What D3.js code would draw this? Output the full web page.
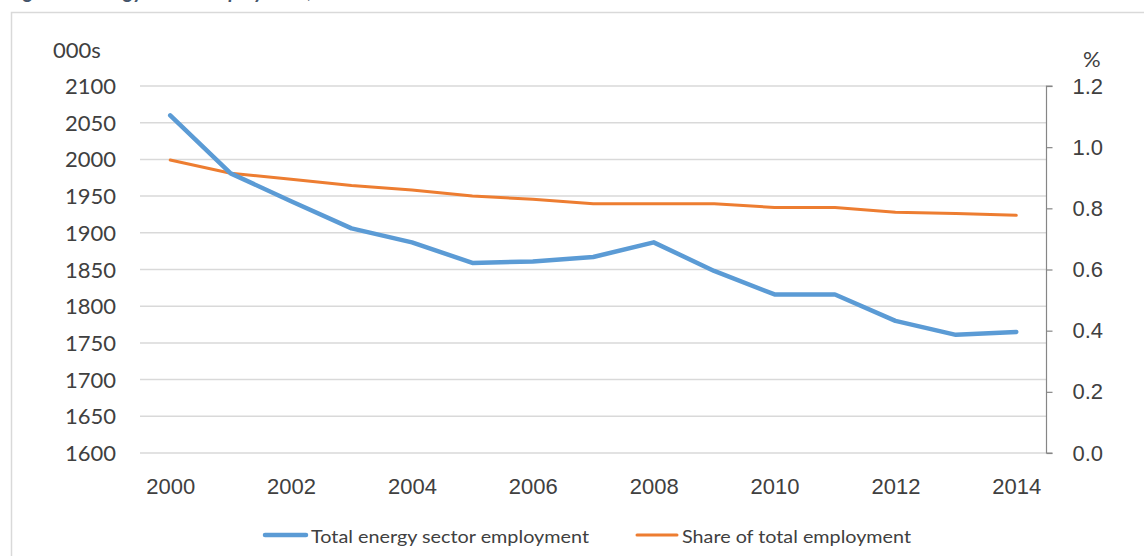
<!DOCTYPE html>
<html>
<head>
<meta charset="utf-8">
<script src="https://cdn.jsdelivr.net/npm/d3@7"></script>
<style>
  html, body { margin: 0; padding: 0; background: #fff; overflow: hidden; }
  svg { display: block; font-family: Lato, "Open Sans", sans-serif; }
  .tick-label { fill: #404040; font-size: 22px; }
  .legend-text { fill: #404040; }
</style>
</head>
<body>
<div id="chart"></div>
<script>
// Data
const years = [2000, 2001, 2002, 2003, 2004, 2005, 2006, 2007, 2008, 2009, 2010, 2011, 2012, 2013, 2014];
const energyEmployment = [2060, 1981, 1943, 1906, 1887, 1859, 1861, 1867, 1887, 1848, 1816, 1816, 1780, 1761, 1765];
const employmentShare = [0.958, 0.915, 0.895, 0.875, 0.860, 0.840, 0.830, 0.815, 0.815, 0.815, 0.803, 0.803, 0.787, 0.783, 0.777];
const xTickYears = [2000, 2002, 2004, 2006, 2008, 2010, 2012, 2014];
const leftTicks = [1600, 1650, 1700, 1750, 1800, 1850, 1900, 1950, 2000, 2050, 2100];
const rightTicks = [0, 0.2, 0.4, 0.6, 0.8, 1.0, 1.2];
const seriesNames = ["Total energy sector employment", "Share of total employment"];

const width = 1144, height = 556;
const plot = { left: 140, right: 1046.5, top: 86, bottom: 453 };
const BLUE = "#5b9bd5", ORANGE = "#ed7d31";

const svg = d3.select("#chart").append("svg").attr("width", width).attr("height", height);

// Figure title, cropped at the top edge as in the source image
svg.append("text")
  .attr("x", 8).attr("y", -2)
  .attr("fill", "#44546a").attr("font-size", 20).attr("font-weight", "bold").attr("font-style", "italic")
  .text("Figure 6: Energy sector employment, 2000–2014");

// Chart area border
svg.append("rect")
  .attr("x", 11.5).attr("y", 12.5).attr("width", 1150).attr("height", 560)
  .attr("fill", "none").attr("stroke", "#d9d9d9").attr("stroke-width", 1.5);

const x = d3.scalePoint().domain(years).range([plot.left, plot.right]).padding(0.5);
const yLeft = d3.scaleLinear().domain([1600, 2100]).range([plot.bottom, plot.top]);
const yRight = d3.scaleLinear().domain([0, 1.2]).range([plot.bottom, plot.top]);

// Horizontal gridlines
svg.append("g").selectAll("line").data(leftTicks).join("line")
  .attr("x1", plot.left).attr("x2", plot.right)
  .attr("y1", (d) => yLeft(d)).attr("y2", (d) => yLeft(d))
  .attr("stroke", "#d9d9d9").attr("stroke-width", 1.5);

// Left axis labels
svg.append("g").selectAll("text").data(leftTicks).join("text")
  .attr("class", "tick-label")
  .attr("x", 116).attr("y", (d) => yLeft(d) + 8)
  .attr("text-anchor", "end")
  .text((d) => d);

svg.append("text").attr("class", "tick-label").attr("x", 53).attr("y", 58).text("000s");

// Right axis
const rightAxis = d3.axisRight(yRight).tickValues(rightTicks).tickSize(6).tickPadding(20).tickFormat(d3.format(".1f"));
const rightG = svg.append("g").attr("transform", `translate(${plot.right},0)`).call(rightAxis);
rightG.select(".domain").attr("stroke", "#868686").attr("stroke-width", 1.2).attr("d", `M6,${plot.top}H0V${plot.bottom}H6`);
rightG.selectAll(".tick line").attr("stroke", "#868686").attr("stroke-width", 1.2);
rightG.selectAll(".tick text").attr("class", "tick-label").attr("font-family", null).attr("font-size", null)
  .attr("fill", "#404040").attr("dy", null).attr("y", 7);

svg.append("text").attr("class", "tick-label").attr("x", 1083).attr("y", 67).text("%");

// Bottom axis labels
const bottomAxis = d3.axisBottom(x).tickValues(xTickYears).tickSize(0).tickPadding(0);
const bottomG = svg.append("g").attr("transform", `translate(0,${plot.bottom})`).call(bottomAxis);
bottomG.select(".domain").remove();
bottomG.selectAll(".tick text").attr("class", "tick-label").attr("font-family", null).attr("font-size", null)
  .attr("fill", "#404040").attr("dy", null).attr("y", 41);

// Series lines
const leftLine = d3.line().x((d, i) => x(years[i])).y((d) => yLeft(d));
const rightLine = d3.line().x((d, i) => x(years[i])).y((d) => yRight(d));

svg.append("path").datum(employmentShare)
  .attr("d", rightLine).attr("fill", "none").attr("stroke", ORANGE)
  .attr("stroke-width", 3).attr("stroke-linejoin", "round").attr("stroke-linecap", "round");

svg.append("path").datum(energyEmployment)
  .attr("d", leftLine).attr("fill", "none").attr("stroke", BLUE)
  .attr("stroke-width", 4.5).attr("stroke-linejoin", "round").attr("stroke-linecap", "round");

// Legend
const legendItems = [
  { name: seriesNames[0], color: BLUE, x1: 265, x2: 306, w: 4.5, tx: 311, len: 278 },
  { name: seriesNames[1], color: ORANGE, x1: 637, x2: 677, w: 3, tx: 682, len: 229 },
];
const legend = svg.append("g");
legend.selectAll("line").data(legendItems).join("line")
  .attr("x1", (d) => d.x1).attr("x2", (d) => d.x2).attr("y1", 535).attr("y2", 535)
  .attr("stroke", (d) => d.color).attr("stroke-width", (d) => d.w).attr("stroke-linecap", "round");
legend.selectAll("text").data(legendItems).join("text")
  .attr("class", "legend-text")
  .attr("font-size", 18)
  .attr("x", (d) => d.tx).attr("y", 543)
  .attr("textLength", (d) => d.len).attr("lengthAdjust", "spacingAndGlyphs")
  .text((d) => d.name);
</script>
</body>
</html>
